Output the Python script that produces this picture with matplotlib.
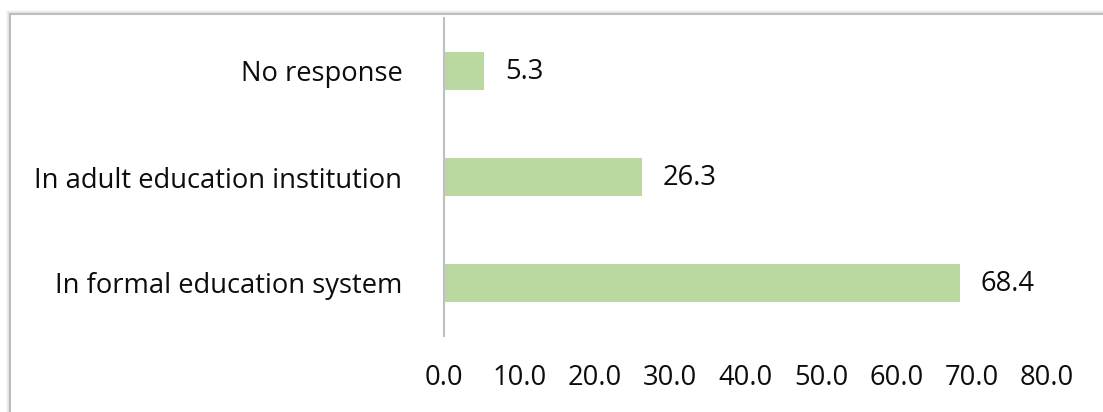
import matplotlib.pyplot as plt
from matplotlib.patches import Rectangle

categories = ["In formal education system", "In adult education institution", "No response"]
values = [68.4, 26.3, 5.3]
xticks = [0, 10, 20, 30, 40, 50, 60, 70, 80]
tick_labels = [f"{t:.1f}" for t in xticks]

plt.rcParams["font.family"] = ["Open Sans", "DejaVu Sans"]
FS = 19.7
TXT = "#0d0d0d"

W, H = 1103, 412
fig = plt.figure(figsize=(W / 100, H / 100), dpi=100)

# chart frame with soft shadow along top and left edges
for i, a in enumerate([0.03, 0.05, 0.08]):
    off = (3 - i)
    fig.patches.append(Rectangle(((10 - off) / W, -0.1), 1.2, (H - 14 + off) / H + 0.1,
                                 transform=fig.transFigure, fill=False,
                                 edgecolor="black", alpha=a, linewidth=1.2))
fig.patches.append(Rectangle((10 / W, -0.1), 1.2, (H - 14) / H + 0.1,
                             transform=fig.transFigure, fill=False,
                             edgecolor="#bdbdbd", linewidth=1.5))

x0, x1 = 444, 1047
y_top, y_bot = 18, 336
ax = fig.add_axes([x0 / W, 1 - y_bot / H, (x1 - x0) / W, (y_bot - y_top) / H])

pos = list(range(len(categories)))
ax.barh(pos, values, height=0.35, color="#b9d9a0", zorder=2)
for p, v in zip(pos, values):
    ax.annotate(f"{v:.1f}", xy=(v, p), xytext=(15, -1), textcoords="offset points",
                va="center", ha="left", fontsize=FS, color=TXT)

ax.set_xlim(0, 80)
ax.set_ylim(-0.5, len(categories) - 0.5)
ax.set_yticks(pos)
ax.set_yticklabels(categories, fontsize=FS, color=TXT)
ax.set_xticks(xticks)
ax.set_xticklabels(tick_labels, fontsize=FS, color=TXT)
ax.tick_params(axis="y", length=0, pad=30)
ax.tick_params(axis="x", length=0, pad=20)

for s in ["top", "right", "bottom"]:
    ax.spines[s].set_visible(False)
ax.spines["left"].set_color("#bfbfbf")
ax.spines["left"].set_linewidth(1.5)
ax.spines["left"].set_zorder(3)

fig.savefig("out.png", dpi=100)
